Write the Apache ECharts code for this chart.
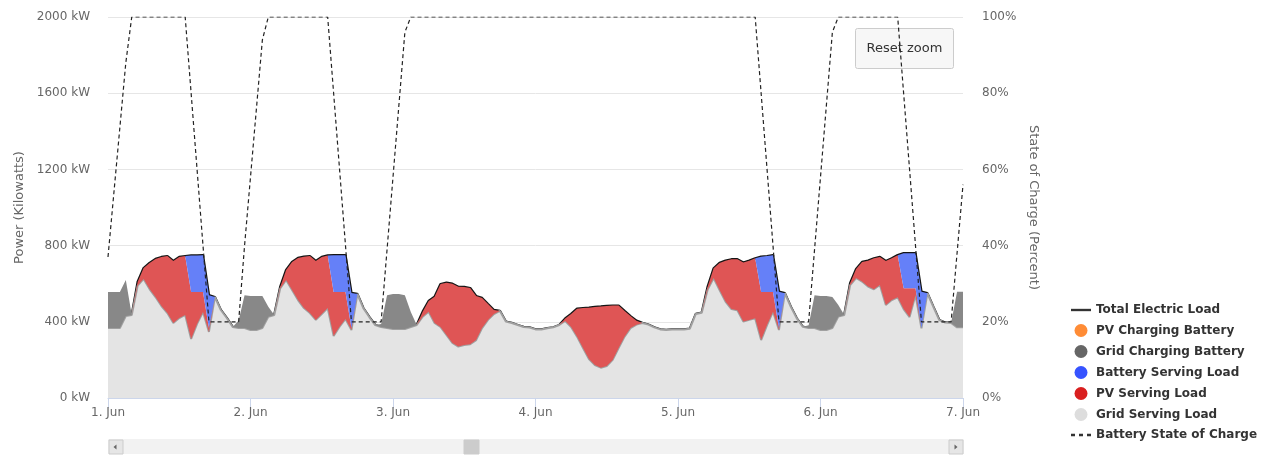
<!DOCTYPE html>
<html>
<head>
<meta charset="utf-8">
<script src="https://cdn.jsdelivr.net/npm/echarts@6/dist/echarts.min.js"></script>
<style>
  html, body { margin: 0; padding: 0; background: #fff; }
  #chart { width: 1266px; height: 456px; }
</style>
</head>
<body>
<div id="chart"></div>
<script>
// ---- Data (hourly, 1 Jun 00:00 .. 7 Jun 00:00) ----
const dayLabels = ['1. Jun', '2. Jun', '3. Jun', '4. Jun', '5. Jun', '6. Jun', '7. Jun'];

const gridServingLoad = [
  // 1 Jun
  367, 367, 367, 430, 436, 590, 625, 572, 530, 483, 446, 394, 420, 436, 310, 389, 451, 347, 530, 462, 420, 373, 367, 367,
  // 2 Jun
  357, 357, 367, 426, 436, 575, 620, 567, 514, 472, 446, 410, 441, 472, 325, 374, 415, 357, 546, 472, 425, 383, 373, 367,
  // 3 Jun
  362, 362, 362, 373, 383, 427, 453, 394, 373, 331, 289, 270, 278, 282, 304, 367, 410, 441, 457, 401, 394, 383, 373, 370,
  // 4 Jun
  360, 360, 366, 371, 383, 404, 373, 322, 262, 205, 173, 159, 168, 200, 262, 322, 367, 385, 394, 385, 371, 360, 357, 360,
  // 5 Jun
  360, 360, 364, 441, 448, 570, 630, 567, 506, 467, 460, 401, 410, 418, 304, 383, 453, 357, 550, 479, 418, 374, 367, 367,
  // 6 Jun
  357, 357, 367, 427, 436, 593, 630, 611, 585, 571, 593, 488, 514, 529, 467, 425, 541, 366, 550, 479, 409, 396, 394, 371,
  // 7 Jun
  371
];

const pvServingLoad = [
  0, 0, 0, 0, 0, 20, 57, 137, 200, 257, 299, 325, 320, 309, 246, 167, 105, 20, 0, 0, 0, 0, 0, 0,
  0, 0, 0, 0, 0, 8, 52, 147, 221, 270, 299, 309, 299, 276, 231, 182, 141, 10, 0, 0, 0, 0, 0, 0,
  0, 0, 0, 0, 0, 26, 56, 138, 225, 274, 311, 314, 305, 295, 231, 158, 83, 21, 0, 0, 0, 0, 0, 0,
  0, 0, 0, 0, 0, 13, 68, 147, 210, 269, 305, 321, 315, 285, 223, 135, 63, 21, 0, 0, 0, 0, 0, 0,
  0, 0, 0, 0, 0, 15, 51, 142, 215, 261, 268, 310, 311, 315, 252, 173, 103, 10, 0, 0, 0, 0, 0, 0,
  0, 0, 0, 0, 0, 11, 47, 103, 136, 162, 147, 231, 219, 221, 109, 151, 35, 0, 0, 0, 0, 0, 0, 0,
  0
];

const batteryServingLoad = [
  0, 0, 0, 0, 0, 0, 0, 0, 0, 0, 0, 0, 0, 0, 192, 192, 194, 173, 0, 0, 0, 0, 0, 0,
  0, 0, 0, 0, 0, 0, 0, 0, 0, 0, 0, 0, 0, 0, 194, 194, 194, 184, 0, 0, 0, 0, 0, 0,
  0, 0, 0, 0, 0, 0, 0, 0, 0, 0, 0, 0, 0, 0, 0, 0, 0, 0, 0, 0, 0, 0, 0, 0,
  0, 0, 0, 0, 0, 0, 0, 0, 0, 0, 0, 0, 0, 0, 0, 0, 0, 0, 0, 0, 0, 0, 0, 0,
  0, 0, 0, 0, 0, 0, 0, 0, 0, 0, 0, 0, 0, 0, 186, 189, 194, 191, 0, 0, 0, 0, 0, 0,
  0, 0, 0, 0, 0, 0, 0, 0, 0, 0, 0, 0, 0, 0, 184, 184, 184, 192, 0, 0, 0, 0, 0, 0,
  0
];

const gridChargingBattery = [
  190, 190, 189, 190, 0, 0, 0, 0, 0, 0, 0, 0, 0, 0, 0, 0, 0, 0, 0, 0, 0, 0, 40, 173,
  178, 178, 168, 53, 0, 0, 0, 0, 0, 0, 0, 0, 0, 0, 0, 0, 0, 0, 0, 0, 0, 0, 15, 173,
  184, 184, 178, 78, 0, 0, 0, 0, 0, 0, 0, 0, 0, 0, 0, 0, 0, 0, 0, 0, 0, 0, 0, 0,
  0, 0, 0, 0, 0, 0, 0, 0, 0, 0, 0, 0, 0, 0, 0, 0, 0, 0, 0, 0, 0, 0, 0, 0,
  0, 0, 0, 0, 0, 0, 0, 0, 0, 0, 0, 0, 0, 0, 0, 0, 0, 0, 0, 0, 0, 0, 15, 173,
  178, 178, 163, 61, 0, 0, 0, 0, 0, 0, 0, 0, 0, 0, 0, 0, 0, 0, 0, 0, 0, 0, 0, 187,
  187
];

const pvChargingBattery = [
  0, 0, 0, 0, 0, 0, 0, 0, 0, 0, 0, 0, 0, 0, 0, 0, 0, 0, 0, 0, 0, 0, 0, 0,
  0, 0, 0, 0, 0, 0, 0, 0, 0, 0, 0, 0, 0, 0, 0, 0, 0, 0, 0, 0, 0, 0, 0, 0,
  0, 0, 0, 0, 0, 0, 0, 0, 0, 0, 0, 0, 0, 0, 0, 0, 0, 0, 0, 0, 0, 0, 0, 0,
  0, 0, 0, 0, 0, 0, 0, 0, 0, 0, 0, 0, 0, 0, 0, 0, 0, 0, 0, 0, 0, 0, 0, 0,
  0, 0, 0, 0, 0, 0, 0, 0, 0, 0, 0, 0, 0, 0, 0, 0, 0, 0, 0, 0, 0, 0, 0, 0,
  0, 0, 0, 0, 0, 0, 0, 0, 0, 0, 0, 0, 0, 0, 0, 0, 0, 0, 0, 0, 0, 0, 0, 0,
  0
];

const batterySOC = [
  37, 54, 71, 88, 100, 100, 100, 100, 100, 100, 100, 100, 100, 100, 80, 60, 40, 20, 20, 20, 20, 20, 20, 40,
  58, 76, 94, 100, 100, 100, 100, 100, 100, 100, 100, 100, 100, 100, 80, 60, 40, 20, 20, 20, 20, 20, 20, 39,
  58, 77, 96, 100, 100, 100, 100, 100, 100, 100, 100, 100, 100, 100, 100, 100, 100, 100, 100, 100, 100, 100, 100, 100,
  100, 100, 100, 100, 100, 100, 100, 100, 100, 100, 100, 100, 100, 100, 100, 100, 100, 100, 100, 100, 100, 100, 100, 100,
  100, 100, 100, 100, 100, 100, 100, 100, 100, 100, 100, 100, 100, 100, 80, 60, 40, 20, 20, 20, 20, 20, 20, 39,
  58, 77, 96, 100, 100, 100, 100, 100, 100, 100, 100, 100, 100, 100, 80, 60, 40, 20, 20, 20, 20, 20, 20, 38,
  56
];

const yLeftTicks = { min: 0, max: 2000, interval: 400 };
const yRightTicks = { min: 0, max: 100, interval: 20 };

// ---- Build ----
const FONT = 'DejaVu Sans';
const hours = gridServingLoad.map((_, i) => String(i));   // hourly categories
const isDayStart = i => i % 24 === 0;
const totalElectricLoad = gridServingLoad.map((v, i) => v + pvServingLoad[i] + batteryServingLoad[i]);

const chart = echarts.init(document.getElementById('chart'), null, { renderer: 'canvas' });

const areaSeries = (name, data, legendColor, fillColor, z, lineWidth, lineCol) => ({
  name, type: 'line', stack: 'power', data,
  showSymbol: false, symbol: 'none', z,
  itemStyle: { color: legendColor },
  lineStyle: { width: lineWidth || 0, color: lineCol || legendColor },
  areaStyle: { color: fillColor, opacity: 1 },
  emphasis: { disabled: true }
});

const option = {
  animation: false,
  backgroundColor: '#ffffff',
  textStyle: { fontFamily: FONT },
  grid: { left: 108, right: 303, top: 17, bottom: 58, containLabel: false },
  legend: {
    orient: 'vertical',
    left: 1066,
    top: 299,
    itemWidth: 20,
    itemHeight: 13,
    itemGap: 8,
    symbolKeepAspect: true,
    textStyle: { fontFamily: FONT, fontWeight: 'bold', fontSize: 12, color: '#333' },
    data: [
      { name: 'Total Electric Load', icon: 'path://M0,0H17V2H0Z', itemStyle: { color: '#333' } },
      { name: 'PV Charging Battery', icon: 'circle', itemStyle: { color: '#ff8c36' } },
      { name: 'Grid Charging Battery', icon: 'circle', itemStyle: { color: '#666666' } },
      { name: 'Battery Serving Load', icon: 'circle', itemStyle: { color: '#3653ff' } },
      { name: 'PV Serving Load', icon: 'circle', itemStyle: { color: '#d91f1f' } },
      { name: 'Grid Serving Load', icon: 'circle', itemStyle: { color: '#dddddd' } },
      { name: 'Battery State of Charge', icon: 'path://M0,0H3V2H0ZM6,0H9V2H6ZM12,0H15V2H12Z', itemStyle: { color: '#333' } }
    ]
  },
  xAxis: {
    type: 'category', data: hours, boundaryGap: false,
    axisLine: { show: true, lineStyle: { color: '#ccd6eb', width: 1 } },
    axisTick: { show: true, length: 10, interval: (i) => isDayStart(i), lineStyle: { color: '#ccd6eb' } },
    splitLine: { show: false },
    axisLabel: {
      color: '#666', fontSize: 12, fontFamily: FONT, margin: 9, showMaxLabel: true,
      interval: (i) => isDayStart(i),
      formatter: (v, i) => dayLabels[Math.round(i / 24)]
    }
  },
  yAxis: [
    {
      type: 'value', min: yLeftTicks.min, max: yLeftTicks.max, interval: yLeftTicks.interval,
      name: 'Power (Kilowatts)', nameLocation: 'middle', nameRotate: 90, nameGap: 81,
      nameTextStyle: { color: '#666', fontSize: 13, fontFamily: FONT },
      axisLine: { show: false }, axisTick: { show: false },
      splitLine: { lineStyle: { color: '#e6e6e6', width: 1 } },
      axisLabel: { color: '#666', fontSize: 12, fontFamily: FONT, margin: 18, formatter: v => v + ' kW' }
    },
    {
      type: 'value', min: yRightTicks.min, max: yRightTicks.max, interval: yRightTicks.interval,
      position: 'right',
      name: 'State of Charge (Percent)', nameLocation: 'middle', nameRotate: -90, nameGap: 64,
      nameTextStyle: { color: '#666', fontSize: 13, fontFamily: FONT },
      axisLine: { show: false }, axisTick: { show: false },
      splitLine: { show: false },
      axisLabel: { color: '#666', fontSize: 12, fontFamily: FONT, margin: 19, formatter: v => v + '%' }
    }
  ],
  series: [
    {
      name: 'Total Electric Load', type: 'line', data: totalElectricLoad,
      showSymbol: false, symbol: 'none', z: 1,
      itemStyle: { color: '#222' },
      lineStyle: { width: 2.4, color: '#151515' },
      emphasis: { disabled: true }
    },
    areaSeries('Grid Serving Load', gridServingLoad, '#dddddd', '#e4e4e4', 1.5, 2, '#a0a0a0'),
    areaSeries('PV Serving Load', pvServingLoad, '#d91f1f', '#df5555', 2),
    areaSeries('Battery Serving Load', batteryServingLoad, '#3653ff', '#6580f8', 2),
    areaSeries('Grid Charging Battery', gridChargingBattery, '#666666', '#888888', 2),
    areaSeries('PV Charging Battery', pvChargingBattery, '#ff8c36', '#ffa866', 2),
    {
      name: 'Battery State of Charge', type: 'line', yAxisIndex: 1, data: batterySOC,
      showSymbol: false, symbol: 'none', z: 5,
      itemStyle: { color: '#333' },
      lineStyle: { width: 1.2, color: '#222', type: [4, 3] },
      emphasis: { disabled: true }
    }
  ],
  graphic: [
    {
      type: 'group', left: 855, top: 28, children: [
        { type: 'rect', shape: { x: 0.5, y: 0.5, width: 98, height: 40, r: 2 },
          style: { fill: '#f7f7f7', stroke: '#cccccc', lineWidth: 1 } },
        { type: 'text', x: 49.5, y: 20.5,
          style: { text: 'Reset zoom', fill: '#333', font: '13px "DejaVu Sans"', align: 'center', verticalAlign: 'middle' } }
      ]
    },
    {
      type: 'group', left: 108, top: 439, children: [
        { type: 'rect', shape: { x: 0, y: 0, width: 855, height: 14 }, style: { fill: '#f2f2f2', stroke: '#f2f2f2' } },
        { type: 'rect', shape: { x: 0.5, y: 0.5, width: 14, height: 14 }, style: { fill: '#e6e6e6', stroke: '#cccccc' } },
        { type: 'polygon', shape: { points: [[5, 7.5], [8, 5], [8, 10]] }, style: { fill: '#666' } },
        { type: 'rect', shape: { x: 840.5, y: 0.5, width: 14, height: 14 }, style: { fill: '#e6e6e6', stroke: '#cccccc' } },
        { type: 'polygon', shape: { points: [[849, 7.5], [846, 5], [846, 10]] }, style: { fill: '#666' } },
        { type: 'rect', shape: { x: 355.5, y: 0.5, width: 15, height: 14 }, style: { fill: '#cccccc', stroke: '#cccccc' } }
      ]
    }
  ]
};

chart.setOption(option);
</script>
</body>
</html>
